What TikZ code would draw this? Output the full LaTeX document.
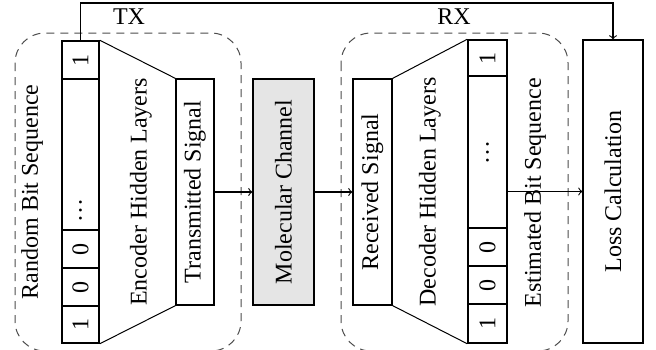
\documentclass[tikz,border=0pt]{standalone}
\usepackage{fontspec}
\setmainfont{Liberation Serif}
\usetikzlibrary{fit,calc}
\begin{document}
\begin{tikzpicture}[x=0.5pt,y=-0.5pt,
  every node/.style={font=\fontsize{12}{14}\selectfont},
  blk/.style={draw, line width=0.6pt, inner sep=0pt},
  cell/.style={draw, line width=0.75pt, inner sep=0pt},
  lbl/.style={rotate=90, inner sep=0pt},
  grp/.style={draw=black!70, dash pattern=on 4pt off 3pt, rounded corners=15pt, line width=0.5pt},
  thin line/.style={line width=0.5pt},
  link/.style={->, line width=0.55pt}]
\useasboundingbox (0,0) rectangle (656,349);
% group boxes
\draw[grp] (15,33) rectangle (241,351);
\draw[grp] (341,33) rectangle (568,351);
% encoder bit column
\node[cell, fit={(62,41) (99,79)}] (e1) {};
\node[cell, fit={(62,79) (99,230)}] (e2) {};
\node[cell, fit={(62,230) (99,268)}] (e3) {};
\node[cell, fit={(62,268) (99,306)}] (e4) {};
\node[cell, fit={(62,306) (99,343)}] (e5) {};
\node[lbl] (t1) at (e1) {1};
\node[lbl] (t2) at (80.5,210) {\ldots};
\node[lbl] (t3) at (e3) {0};
\node[lbl] (t4) at (e4) {0};
\node[lbl] (t5) at (e5) {1};
% transmitted signal
\node[blk, fit={(176,79) (214,305)}] (tx) {};
\node[lbl] (txt) at (tx) {Transmitted Signal};
\draw[thin line] (e1.north east) -- (tx.north west);
\draw[thin line] (e5.south east) -- (tx.south west);
% molecular channel
\node[blk, fill=gray!20, fit={(253,79) (314,305)}] (mc) {};
\node[lbl] (mct) at (mc) {Molecular Channel};
% received signal
\node[blk, fit={(353,79) (392,305)}] (rx) {};
\node[lbl] (rxt) at (rx) {Received Signal};
% decoder bit column
\node[cell, fit={(468,40) (507,76)}] (d1) {};
\node[cell, fit={(468,76) (507,228)}] (d2) {};
\node[cell, fit={(468,228) (507,266)}] (d3) {};
\node[cell, fit={(468,266) (507,304)}] (d4) {};
\node[cell, fit={(468,304) (507,343)}] (d5) {};
\node[lbl] (s1) at (d1) {1};
\node[lbl] (s2) at (487.5,152) {\ldots};
\node[lbl] (s3) at (d3) {0};
\node[lbl] (s4) at (d4) {0};
\node[lbl] (s5) at (d5) {1};
\draw[thin line] (rx.north east) -- (d1.north west);
\draw[thin line] (rx.south east) -- (d5.south west);
% loss
\node[blk, fit={(583,40) (643,343)}] (loss) {};
\node[lbl] (losst) at (loss) {Loss Calculation};
% labels
\node[lbl] (rbs) at (32,192) {Random Bit Sequence};
\node[lbl] (ehl) at (141,192) {Encoder Hidden Layers};
\node[lbl] (dhl) at (430,192) {Decoder Hidden Layers};
\node[lbl] (ebs) at (535,193) {Estimated Bit Sequence};
\node (txl) at (129,17) {TX};
\node (rxl) at (454,17) {RX};
% connectors
\coordinate (top) at (0,3);
\draw[link] (e1.north) -- (e1.north |- top) -| (loss.north);
\draw[link] (tx.east) -- (mc.west);
\draw[link] (mc.east) -- (rx.west);
\draw[link] (d2.east |- loss.west) -- (loss.west);
\end{tikzpicture}
\end{document}
